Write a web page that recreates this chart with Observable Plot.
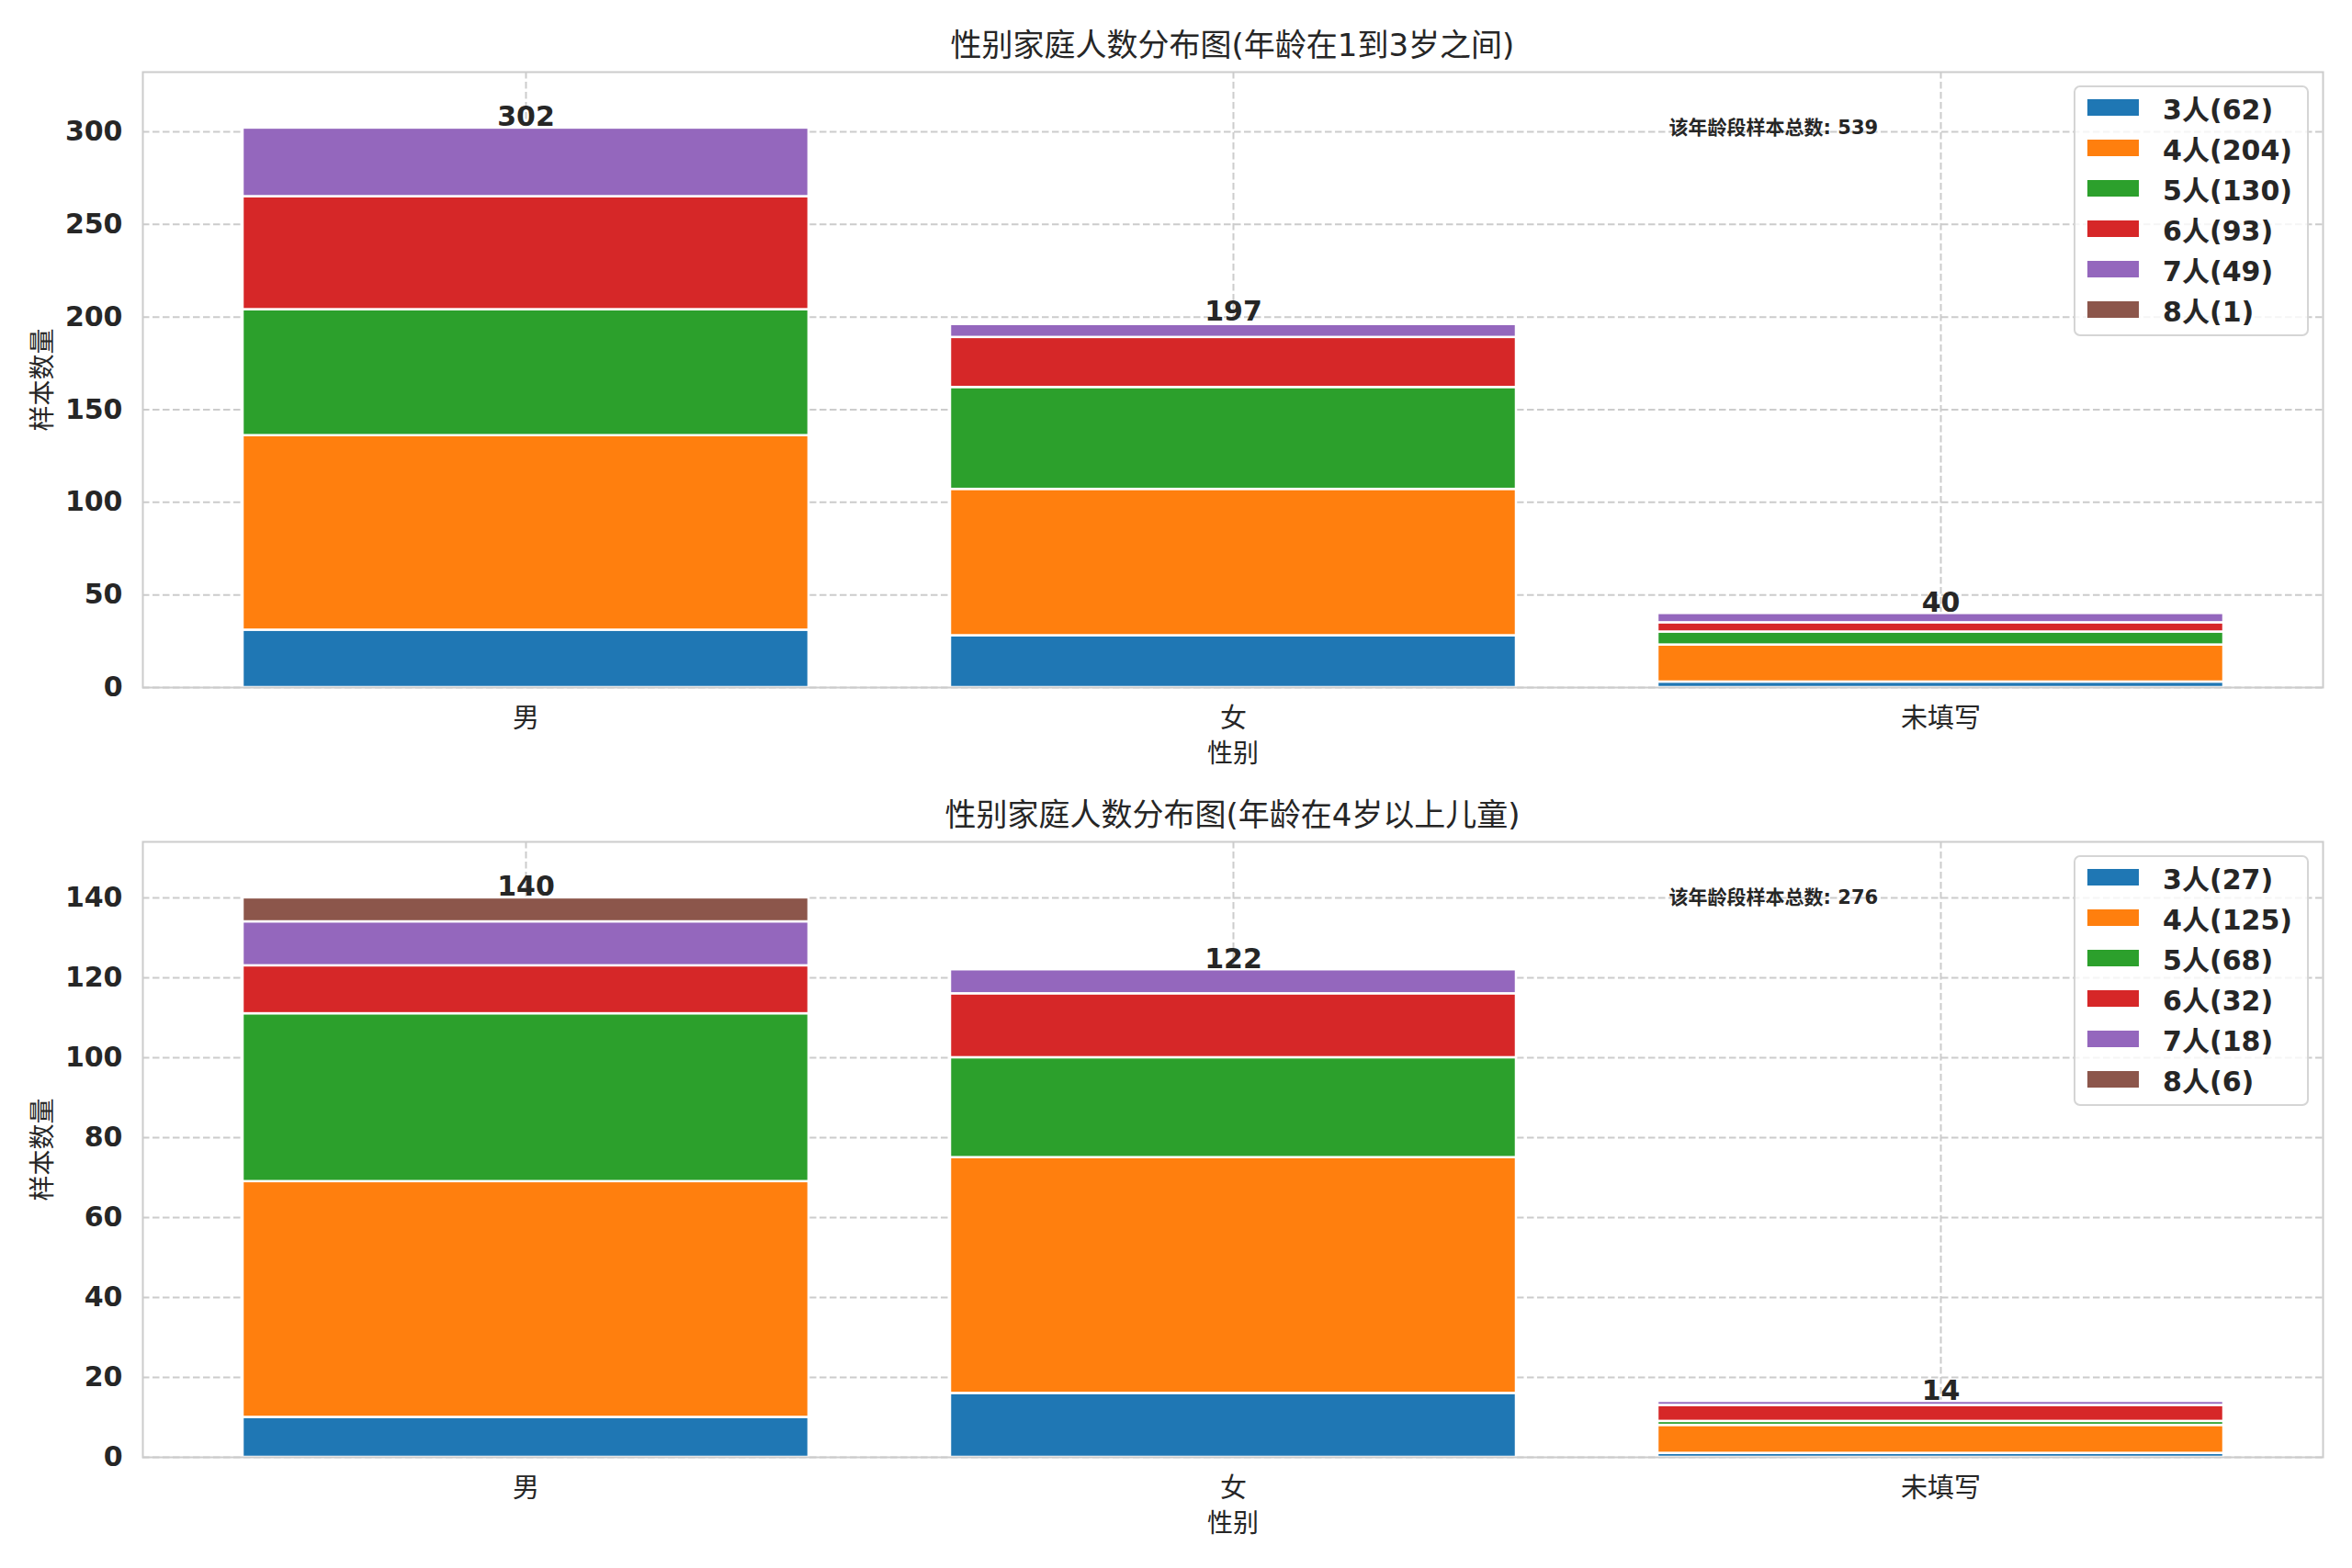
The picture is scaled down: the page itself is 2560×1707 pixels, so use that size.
<!DOCTYPE html>
<html><head><meta charset="utf-8">
<script src="https://cdn.jsdelivr.net/npm/d3@7"></script>
<script src="https://cdn.jsdelivr.net/npm/@observablehq/plot@0.6"></script>
<style>
body{margin:0;background:#fff;}
#fig{position:relative;width:2560px;height:1707px;font-family:"DejaVu Sans","Noto Sans CJK SC",sans-serif;color:#262626;background:#fff;}
.title{position:absolute;left:155px;width:2373px;text-align:center;font-size:34px;height:44px;line-height:44px;}
.plot{position:absolute;left:0;}
.legend{position:absolute;right:47px;background:rgba(255,255,255,0.8);border:2px solid #d5d5d5;border-radius:7px;padding:0px 16px 5px 13px;}
.legend .row{display:flex;align-items:center;height:44px;font-weight:bold;font-size:30px;white-space:nowrap;}
.legend .sw{width:56px;height:18px;margin-right:26px;}
</style></head><body><div id="fig"></div>
<script>
const genders = ["男", "女", "未填写"];
const sizes = ["3人", "4人", "5人", "6人", "7人", "8人"];
const colors = ["#1f77b4", "#ff7f0e", "#2ca02c", "#d62728", "#9467bd", "#8c564b"];
const titleTop = "性别家庭人数分布图(年龄在1到3岁之间)";
const titleBottom = "性别家庭人数分布图(年龄在4岁以上儿童)";
// rows: sizes, columns: genders
const countsTop = [
  [31, 28, 3],
  [105, 79, 20],
  [68, 55, 7],
  [61, 27, 5],
  [37, 7, 5],
  [0, 1, 0]
];
const countsBottom = [
  [10, 16, 1],
  [59, 59, 7],
  [42, 25, 1],
  [12, 16, 4],
  [11, 6, 1],
  [6, 0, 0]
];
const yTicksTop = [0, 50, 100, 150, 200, 250, 300];
const yTicksBottom = [0, 20, 40, 60, 80, 100, 120, 140];
const yLabel = "样本数量";
const xLabel = "性别";
const annotLabel = "该年龄段样本总数";

const FONT = '"DejaVu Sans","Noto Sans CJK SC",sans-serif';
const fig = document.getElementById("fig");
const W = 2560, ML = 155, MR = 32, MT = 2, FH = 670, MB = 118;
const FW = W - ML - MR;

function panel(counts, yTicks, title, svgTop, titleCenter) {
  const rows = [];
  sizes.forEach((s, i) => genders.forEach((g, j) => {
    if (counts[i][j] > 0) rows.push({gender: g, size: s, count: counts[i][j]});
  }));
  const totals = genders.map((g, j) => ({gender: g, total: d3.sum(counts, r => r[j])}));
  const grand = d3.sum(totals, d => d.total);
  const ymax = d3.max(totals, d => d.total) * 1.1;
  const sizeTotals = sizes.map((s, i) => d3.sum(counts[i]));

  const t = document.createElement("div");
  t.className = "title";
  t.style.top = (titleCenter - 22) + "px";
  t.textContent = title;
  fig.appendChild(t);

  const grid = {stroke: "#cccccc", strokeOpacity: 1, strokeWidth: 2, strokeDasharray: "7.5,3.5"};
  const svg = Plot.plot({
    width: W, height: MT + FH + MB,
    marginLeft: ML, marginRight: MR, marginTop: MT, marginBottom: MB,
    style: {fontFamily: FONT, fontSize: "30px", color: "#262626", background: "transparent", overflow: "visible"},
    x: {domain: genders, paddingInner: 0.2, paddingOuter: 0.14},
    y: {domain: [0, ymax]},
    color: {domain: sizes, range: colors},
    marks: [
      Plot.gridY({...grid, ticks: yTicks}),
      Plot.gridX(grid),
      Plot.barY(rows, {x: "gender", y: "count", fill: "size", stroke: "white", strokeWidth: 2.5}),
      Plot.frame({stroke: "#cccccc", strokeWidth: 2}),
      Plot.axisY({ticks: yTicks, tickSize: 0, tickPadding: 22, fontWeight: "bold", fontSize: 30, label: null, fontFamily: FONT}),
      Plot.axisX({tickSize: 0, tickPadding: 23, fontSize: 29, label: null, fontFamily: FONT}),
      Plot.text(totals, {x: "gender", y: "total", text: d => String(d.total), lineAnchor: "bottom", dy: -2, fontWeight: "bold", fontSize: 30, fill: "#262626"}),
      Plot.text([`${annotLabel}: ${grand}`], {frameAnchor: "top-left", text: d => d, dx: 0.7 * FW, dy: 67, lineAnchor: "bottom", textAnchor: "start", fontWeight: "bold", fontSize: 21, fill: "#262626"}),
      Plot.text([yLabel], {frameAnchor: "left", text: d => d, dx: -108, rotate: -90, textAnchor: "middle", lineAnchor: "middle", fontSize: 28, fill: "#262626"}),
      Plot.text([xLabel], {frameAnchor: "bottom", text: d => d, dy: 73, textAnchor: "middle", lineAnchor: "middle", fontSize: 28, fill: "#262626"})
    ]
  });
  svg.classList.add("plot");
  svg.style.top = svgTop + "px";
  fig.appendChild(svg);

  const lg = document.createElement("div");
  lg.className = "legend";
  lg.style.top = (svgTop + MT + 15) + "px";
  sizes.forEach((s, i) => {
    const r = document.createElement("div");
    r.className = "row";
    const sw = document.createElement("div");
    sw.className = "sw";
    sw.style.background = colors[i];
    const tx = document.createElement("span");
    tx.textContent = `${s}(${sizeTotals[i]})`;
    r.appendChild(sw); r.appendChild(tx);
    lg.appendChild(r);
  });
  fig.appendChild(lg);
}

panel(countsTop, yTicksTop, titleTop, 76, 49);
panel(countsBottom, yTicksBottom, titleBottom, 914, 887);
</script></body></html>
